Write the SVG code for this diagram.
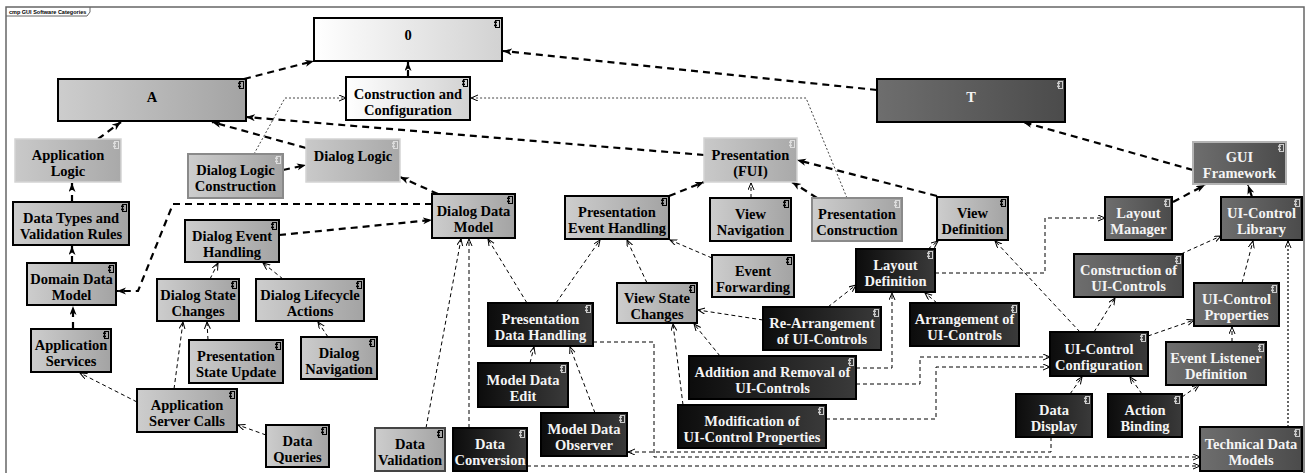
<svg xmlns="http://www.w3.org/2000/svg" xmlns:xlink="http://www.w3.org/1999/xlink" width="1310" height="473" viewBox="0 0 1310 473">
<style>
  .frame{fill:#fff;stroke:#666;stroke-width:1.5}
  .box{stroke:#000;stroke-width:2}
  .white{fill:url(#gWhite)}
  .light{fill:url(#gLight)}
  .soft{fill:url(#gSoft);stroke:#d4d4d4;stroke-width:1.5}
  .grayb{fill:url(#gLight);stroke:#8a8a8a;stroke-width:2}
  .dgray{fill:url(#gDark)}
  .dgrayb{fill:url(#gDark);stroke:#b4b4b4;stroke-width:2}
  .black{fill:url(#gBlack)}
  .lbl{font-family:"Liberation Serif","Times New Roman",serif;font-weight:bold;font-size:14.5px;text-anchor:middle;fill:#000}
  .inv{fill:#f4f4f4}
  .title{font-family:"Liberation Sans",Arial,sans-serif;font-weight:bold;font-size:5.5px;fill:#000}
  .thick{fill:none;stroke:#000;stroke-width:2.2;stroke-dasharray:7 5;marker-end:url(#aFilled)}
  .thin{fill:none;stroke:#000;stroke-width:1;stroke-dasharray:4 3;marker-end:url(#aOpen)}
  .dot{fill:none;stroke:#444;stroke-width:1;stroke-dasharray:2 2;marker-end:url(#aOpen)}
  .dots{fill:none;stroke:#555;stroke-width:1.8;stroke-dasharray:2 2;marker-end:url(#aOpen)}
</style>
<defs>
  <linearGradient id="gWhite" x1="0" y1="0" x2="1" y2="0"><stop offset="0" stop-color="#ffffff"/><stop offset="1" stop-color="#d2d2d2"/></linearGradient>
  <linearGradient id="gLight" x1="0" y1="0" x2="1" y2="0"><stop offset="0" stop-color="#cdcdcd"/><stop offset="1" stop-color="#a3a3a3"/></linearGradient>
  <linearGradient id="gSoft" x1="0" y1="0" x2="1" y2="0"><stop offset="0" stop-color="#c9c9c9"/><stop offset="1" stop-color="#a9a9a9"/></linearGradient>
  <linearGradient id="gDark" x1="0" y1="0" x2="1" y2="0"><stop offset="0" stop-color="#6e6e6e"/><stop offset="1" stop-color="#4b4b4b"/></linearGradient>
  <linearGradient id="gBlack" x1="0" y1="0" x2="1" y2="0"><stop offset="0" stop-color="#0c0c0c"/><stop offset="1" stop-color="#3a3a3a"/></linearGradient>
  <marker id="aFilled" markerUnits="userSpaceOnUse" markerWidth="10" markerHeight="8" refX="9" refY="3.5" orient="auto">
    <path d="M0,0 L9,3.5 L0,7 L2.5,3.5 z" fill="#000"/>
  </marker>
  <marker id="aOpen" markerUnits="userSpaceOnUse" markerWidth="9" markerHeight="8" refX="7" refY="3" orient="auto">
    <path d="M0,0 L7,3 L0,6" fill="none" stroke="#000" stroke-width="1"/>
  </marker>
  <!-- component glyph shown in node corners -->
  <symbol id="ico" viewBox="0 0 6 8" width="6" height="8">
    <rect x="1.5" y="0.5" width="4" height="7" fill="none" stroke="currentColor" stroke-width="1"/>
    <rect x="0" y="1.5" width="3" height="1.6" fill="currentColor"/>
    <rect x="0" y="4.6" width="3" height="1.6" fill="currentColor"/>
  </symbol>
</defs>

<!-- diagram frame -->
<rect class="frame" x="6" y="7" width="1298" height="470"/>
<path d="M6,16 L87,16 L90,12 L90,7" fill="none" stroke="#666" stroke-width="1"/>
<text class="title" x="9" y="14">cmp GUI Software Categories</text>

<g id="connectors">
  <!-- category dependencies -->
  <path class="thick" d="M244,79 L314,61"/>
  <path class="thick" d="M408,77 L408,62"/>
  <path class="thick" d="M877,90 L503,51"/>
  <path class="thick" d="M98,139 L121,122"/>
  <path class="thick" d="M306,148 L212,122"/>
  <path class="thick" d="M704,155 L246,117"/>
  <path class="thick" d="M283,170 L306,165"/>
  <path class="thick" d="M72,202 L72,183"/>
  <path class="thick" d="M72,263 L72,246"/>
  <path class="thick" d="M73,329 L73,306"/>
  <path class="thick" d="M438,194 L400,177"/>
  <path class="thick" d="M432,204 L173,204 L138,291 L117,291"/>
  <path class="thick" d="M279,235 L432,220"/>
  <path class="thick" d="M669,196 L704,182"/>
  <path class="thick" d="M817,198 L792,182"/>
  <path class="thick" d="M937,196 L797,160"/>
  <path class="thick" d="M1173,202 L1205,185"/>
  <path class="thick" d="M1252,197 L1248,185"/>
  <path class="thick" d="M1193,170 L1023,122"/>
  <!-- construction links -->
  <path class="dot" d="M254,154 L285,98 L346,98"/>
  <path class="dot" d="M847,198 L806,98 L471,98"/>
  <!-- usage links -->
  <path class="thin" d="M751,198 L751,183"/>
  <path class="thin" d="M210,279 L218,263"/>
  <path class="thin" d="M283,279 L263,263"/>
  <path class="thin" d="M208,340 L207,322"/>
  <path class="thin" d="M174,389 L183,322"/>
  <path class="thin" d="M137,402 L80,373"/>
  <path class="thin" d="M266,435 L238,425"/>
  <path class="thin" d="M328,337 L318,322"/>
  <path class="thin" d="M426,428 L461,239"/>
  <path class="thin" d="M469,428 L469,239"/>
  <path class="thin" d="M527,303 L488,239"/>
  <path class="thin" d="M556,303 L600,240"/>
  <path class="thin" d="M647,283 L627,240"/>
  <path class="thin" d="M712,258 L670,240"/>
  <path class="thin" d="M530,363 L534,347"/>
  <path class="thin" d="M595,413 L570,347"/>
  <path class="thin" d="M763,320 L698,310"/>
  <path class="thin" d="M720,356 L694,324"/>
  <path class="thin" d="M683,405 L673,324"/>
  <path class="thin" d="M856,368 L892,368 L892,293"/>
  <path class="thin" d="M856,384 L920,384 L920,357 L1050,357"/>
  <path class="thin" d="M826,419 L936,419 L936,367 L1050,367"/>
  <path class="thin" d="M828,307 L856,285"/>
  <path class="thin" d="M937,303 L925,293"/>
  <path class="thin" d="M928,249 L938,241"/>
  <path class="thin" d="M935,273 L1045,273 L1045,218 L1105,218"/>
  <path class="thin" d="M1080,332 L995,241"/>
  <path class="thin" d="M1094,332 L1115,298"/>
  <path class="thin" d="M1148,336 L1194,320"/>
  <path class="thin" d="M1181,254 L1221,236"/>
  <path class="thin" d="M1242,283 L1253,241"/>
  <path class="thin" d="M1232,342 L1232,327"/>
  <path class="thin" d="M1070,394 L1082,377"/>
  <path class="thin" d="M1142,394 L1130,377"/>
  <path class="thin" d="M1182,397 L1199,385"/>
  <path class="thin" d="M1051,437 L1051,452 L628,452"/>
  <path class="thin" d="M593,342 L654,342 L654,457 L1200,457"/>
  <path class="thin" d="M527,466 L1200,466"/>
  <path class="dots" d="M1288,427 L1288,241"/>
</g>

<!-- top categories -->
<g id="n-0"><rect class="box white" x="314" y="18" width="188" height="43"/><text class="lbl" x="408" y="40">0</text><use href="#ico" x="494" y="20" color="#000"/></g>
<g id="n-construction-configuration"><rect class="box white" x="346" y="77" width="124" height="43"/><text class="lbl"><tspan x="408" y="99">Construction and</tspan><tspan x="408" y="115">Configuration</tspan></text><use href="#ico" x="462" y="79" color="#000"/></g>
<g id="n-A"><rect class="box light" x="58" y="79" width="188" height="42"/><text class="lbl" x="152" y="102">A</text><use href="#ico" x="238" y="81" color="#000"/></g>
<g id="n-T"><rect class="box dgray" x="877" y="79" width="188" height="43"/><text class="lbl inv" x="971" y="102">T</text><use href="#ico" x="1057" y="81" color="#ccc"/></g>

<!-- dialog side -->
<g id="n-application-logic"><rect class="soft" x="15" y="139" width="106" height="43"/><text class="lbl"><tspan x="68" y="160">Application</tspan><tspan x="68" y="176">Logic</tspan></text><use href="#ico" x="113" y="141" color="#ddd"/></g>
<g id="n-dialog-logic"><rect class="soft" x="306" y="139" width="94" height="43"/><text class="lbl" x="353" y="161">Dialog Logic</text><use href="#ico" x="392" y="141" color="#ddd"/></g>
<g id="n-dialog-logic-construction"><rect class="grayb" x="188" y="154" width="95" height="44"/><text class="lbl"><tspan x="235.5" y="175">Dialog Logic</tspan><tspan x="235.5" y="191">Construction</tspan></text><use href="#ico" x="275" y="156" color="#ddd"/></g>
<g id="n-data-types"><rect class="box light" x="13" y="202" width="116" height="43"/><text class="lbl"><tspan x="71" y="223">Data Types and</tspan><tspan x="71" y="239">Validation Rules</tspan></text><use href="#ico" x="121" y="204" color="#000"/></g>
<g id="n-domain-data-model"><rect class="box light" x="27" y="263" width="89" height="42"/><text class="lbl"><tspan x="71.5" y="284">Domain Data</tspan><tspan x="71.5" y="300">Model</tspan></text><use href="#ico" x="108" y="265" color="#000"/></g>
<g id="n-application-services"><rect class="box light" x="31" y="329" width="80" height="43"/><text class="lbl"><tspan x="71" y="350">Application</tspan><tspan x="71" y="366">Services</tspan></text><use href="#ico" x="103" y="331" color="#000"/></g>
<g id="n-dialog-event-handling"><rect class="box light" x="185" y="220" width="94" height="42"/><text class="lbl"><tspan x="232" y="241">Dialog Event</tspan><tspan x="232" y="257">Handling</tspan></text><use href="#ico" x="271" y="222" color="#000"/></g>
<g id="n-dialog-state-changes"><rect class="box light" x="157" y="279" width="82" height="42"/><text class="lbl"><tspan x="198" y="300">Dialog State</tspan><tspan x="198" y="316">Changes</tspan></text><use href="#ico" x="231" y="281" color="#000"/></g>
<g id="n-dialog-lifecycle-actions"><rect class="box light" x="256" y="279" width="108" height="42"/><text class="lbl"><tspan x="310" y="300">Dialog Lifecycle</tspan><tspan x="310" y="316">Actions</tspan></text><use href="#ico" x="356" y="281" color="#000"/></g>
<g id="n-presentation-state-update"><rect class="box light" x="189" y="340" width="94" height="43"/><text class="lbl"><tspan x="236" y="361">Presentation</tspan><tspan x="236" y="377">State Update</tspan></text><use href="#ico" x="275" y="342" color="#000"/></g>
<g id="n-dialog-navigation"><rect class="box light" x="301" y="337" width="76" height="42"/><text class="lbl"><tspan x="339" y="358">Dialog</tspan><tspan x="339" y="374">Navigation</tspan></text><use href="#ico" x="369" y="339" color="#000"/></g>
<g id="n-application-server-calls"><rect class="box light" x="137" y="389" width="100" height="43"/><text class="lbl"><tspan x="187" y="410">Application</tspan><tspan x="187" y="426">Server Calls</tspan></text><use href="#ico" x="229" y="391" color="#000"/></g>
<g id="n-data-queries"><rect class="box light" x="266" y="425" width="63" height="42"/><text class="lbl"><tspan x="297.5" y="446">Data</tspan><tspan x="297.5" y="462">Queries</tspan></text><use href="#ico" x="321" y="427" color="#000"/></g>
<g id="n-dialog-data-model"><rect class="box light" x="432" y="194" width="83" height="44"/><text class="lbl"><tspan x="473.5" y="216">Dialog Data</tspan><tspan x="473.5" y="232">Model</tspan></text><use href="#ico" x="507" y="196" color="#000"/></g>
<g id="n-data-validation"><rect class="box light" x="375" y="428" width="70" height="43" style="stroke:#444"/><text class="lbl"><tspan x="410" y="449">Data</tspan><tspan x="410" y="465">Validation</tspan></text><use href="#ico" x="437" y="430" color="#000"/></g>
<g id="n-data-conversion"><rect class="box black" x="453" y="428" width="74" height="43"/><text class="lbl inv"><tspan x="490" y="449">Data</tspan><tspan x="490" y="465">Conversion</tspan></text><use href="#ico" x="519" y="430" color="#ccc"/></g>

<!-- presentation side -->
<g id="n-presentation-fui"><rect class="soft" x="704" y="138" width="93" height="44"/><text class="lbl"><tspan x="750.5" y="160">Presentation</tspan><tspan x="750.5" y="176">(FUI)</tspan></text><use href="#ico" x="789" y="140" color="#ddd"/></g>
<g id="n-presentation-event-handling"><rect class="box light" x="565" y="196" width="104" height="43"/><text class="lbl"><tspan x="617" y="217">Presentation</tspan><tspan x="617" y="233">Event Handling</tspan></text><use href="#ico" x="661" y="198" color="#000"/></g>
<g id="n-view-navigation"><rect class="box light" x="710" y="198" width="81" height="43"/><text class="lbl"><tspan x="750.5" y="219">View</tspan><tspan x="750.5" y="235">Navigation</tspan></text><use href="#ico" x="783" y="200" color="#000"/></g>
<g id="n-presentation-construction"><rect class="grayb" x="812" y="198" width="90" height="43"/><text class="lbl"><tspan x="857" y="219">Presentation</tspan><tspan x="857" y="235">Construction</tspan></text><use href="#ico" x="894" y="200" color="#ddd"/></g>
<g id="n-view-definition"><rect class="box light" x="937" y="197" width="71" height="43"/><text class="lbl"><tspan x="972.5" y="218">View</tspan><tspan x="972.5" y="234">Definition</tspan></text><use href="#ico" x="1000" y="199" color="#000"/></g>
<g id="n-event-forwarding"><rect class="box light" x="712" y="255" width="82" height="42"/><text class="lbl"><tspan x="753" y="276">Event</tspan><tspan x="753" y="292">Forwarding</tspan></text><use href="#ico" x="786" y="257" color="#000"/></g>
<g id="n-view-state-changes"><rect class="box light" x="617" y="283" width="80" height="40"/><text class="lbl"><tspan x="657" y="303">View State</tspan><tspan x="657" y="319">Changes</tspan></text><use href="#ico" x="689" y="285" color="#000"/></g>
<g id="n-presentation-data-handling"><rect class="box black" x="488" y="303" width="105" height="43"/><text class="lbl inv"><tspan x="540.5" y="324">Presentation</tspan><tspan x="540.5" y="340">Data Handling</tspan></text><use href="#ico" x="585" y="305" color="#ccc"/></g>
<g id="n-model-data-edit"><rect class="box black" x="478" y="363" width="90" height="44"/><text class="lbl inv"><tspan x="523" y="385">Model Data</tspan><tspan x="523" y="401">Edit</tspan></text><use href="#ico" x="560" y="365" color="#ccc"/></g>
<g id="n-model-data-observer"><rect class="box black" x="541" y="413" width="86" height="43"/><text class="lbl inv"><tspan x="584" y="434">Model Data</tspan><tspan x="584" y="450">Observer</tspan></text><use href="#ico" x="619" y="415" color="#ccc"/></g>
<g id="n-layout-definition"><rect class="box black" x="856" y="249" width="79" height="43"/><text class="lbl inv"><tspan x="895.5" y="270">Layout</tspan><tspan x="895.5" y="286">Definition</tspan></text><use href="#ico" x="927" y="251" color="#ccc"/></g>
<g id="n-re-arrangement"><rect class="box black" x="763" y="307" width="118" height="43"/><text class="lbl inv"><tspan x="822" y="328">Re-Arrangement</tspan><tspan x="822" y="344">of UI-Controls</tspan></text><use href="#ico" x="873" y="309" color="#ccc"/></g>
<g id="n-arrangement"><rect class="box black" x="910" y="303" width="109" height="43"/><text class="lbl inv"><tspan x="964.5" y="324">Arrangement of</tspan><tspan x="964.5" y="340">UI-Controls</tspan></text><use href="#ico" x="1011" y="305" color="#ccc"/></g>
<g id="n-addition-removal"><rect class="box black" x="689" y="356" width="167" height="43"/><text class="lbl inv"><tspan x="772.5" y="377">Addition and Removal of</tspan><tspan x="772.5" y="393">UI-Controls</tspan></text><use href="#ico" x="848" y="358" color="#ccc"/></g>
<g id="n-modification"><rect class="box black" x="678" y="405" width="148" height="43"/><text class="lbl inv"><tspan x="752" y="426">Modification of</tspan><tspan x="752" y="442">UI-Control Properties</tspan></text><use href="#ico" x="818" y="407" color="#ccc"/></g>

<!-- toolkit side -->
<g id="n-gui-framework"><rect class="dgrayb" x="1193" y="142" width="93" height="42"/><text class="lbl inv"><tspan x="1239.5" y="162">GUI</tspan><tspan x="1239.5" y="178">Framework</tspan></text><use href="#ico" x="1278" y="144" color="#ccc"/></g>
<g id="n-layout-manager"><rect class="box dgray" x="1105" y="197" width="67" height="43"/><text class="lbl inv"><tspan x="1138.5" y="218">Layout</tspan><tspan x="1138.5" y="234">Manager</tspan></text><use href="#ico" x="1164" y="199" color="#ccc"/></g>
<g id="n-ui-control-library"><rect class="box dgray" x="1221" y="197" width="81" height="43"/><text class="lbl inv"><tspan x="1261.5" y="218">UI-Control</tspan><tspan x="1261.5" y="234">Library</tspan></text><use href="#ico" x="1294" y="199" color="#ccc"/></g>
<g id="n-construction-ui-controls"><rect class="box dgray" x="1074" y="254" width="109" height="43"/><text class="lbl inv"><tspan x="1128.5" y="275">Construction of</tspan><tspan x="1128.5" y="291">UI-Controls</tspan></text><use href="#ico" x="1175" y="256" color="#ccc"/></g>
<g id="n-ui-control-properties"><rect class="box dgray" x="1194" y="283" width="85" height="43"/><text class="lbl inv"><tspan x="1236.5" y="304">UI-Control</tspan><tspan x="1236.5" y="320">Properties</tspan></text><use href="#ico" x="1271" y="285" color="#ccc"/></g>
<g id="n-ui-control-configuration"><rect class="box black" x="1050" y="332" width="98" height="44"/><text class="lbl inv"><tspan x="1099" y="354">UI-Control</tspan><tspan x="1099" y="370">Configuration</tspan></text><use href="#ico" x="1140" y="334" color="#ccc"/></g>
<g id="n-event-listener-definition"><rect class="box dgray" x="1166" y="342" width="100" height="43"/><text class="lbl inv"><tspan x="1216" y="363">Event Listener</tspan><tspan x="1216" y="379">Definition</tspan></text><use href="#ico" x="1258" y="344" color="#ccc"/></g>
<g id="n-data-display"><rect class="box black" x="1016" y="394" width="76" height="43"/><text class="lbl inv"><tspan x="1054" y="415">Data</tspan><tspan x="1054" y="431">Display</tspan></text><use href="#ico" x="1084" y="396" color="#ccc"/></g>
<g id="n-action-binding"><rect class="box black" x="1108" y="394" width="74" height="43"/><text class="lbl inv"><tspan x="1145" y="415">Action</tspan><tspan x="1145" y="431">Binding</tspan></text><use href="#ico" x="1174" y="396" color="#ccc"/></g>
<g id="n-technical-data-models"><rect class="box dgray" x="1200" y="427" width="102" height="44"/><text class="lbl inv"><tspan x="1251" y="449">Technical Data</tspan><tspan x="1251" y="465">Models</tspan></text><use href="#ico" x="1294" y="429" color="#ccc"/></g>
</svg>
